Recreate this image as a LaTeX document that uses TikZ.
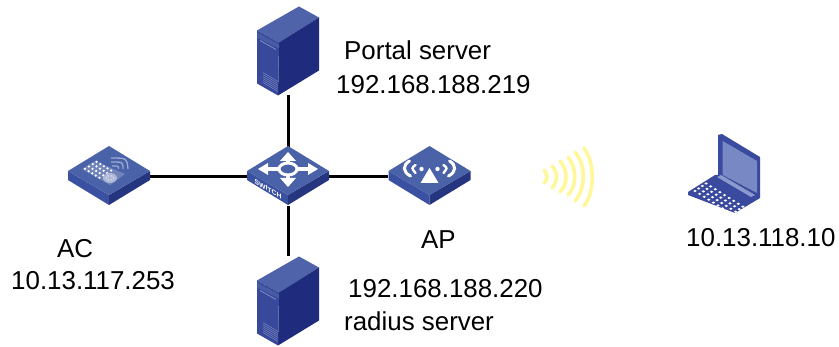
\documentclass[tikz,border=0pt]{standalone}
\usepackage{fontspec}
\setmainfont{Liberation Sans}
\definecolor{slabtop}{HTML}{4A62A8}
\definecolor{slableft}{HTML}{3A50A0}
\definecolor{slabright}{HTML}{25357F}
\definecolor{srvtop}{HTML}{4F63AA}
\definecolor{srvfront}{HTML}{38489A}
\definecolor{srvright}{HTML}{1F2B7C}
\definecolor{iconlight}{HTML}{A9B8DC}
\definecolor{wave}{HTML}{FFF79A}
\definecolor{lapscreen}{HTML}{7788C4}
\definecolor{lapbody}{HTML}{3A4A9E}
\tikzset{
  x=1pt,y=-1pt,
  link/.style={line width=3pt,black},
  label/.style={anchor=base west,inner sep=0pt,font=\fontsize{25.9}{30}\selectfont,text=black},
  device/.style={inner sep=0pt,minimum width=#1},
  waveline/.style={line width=3.6pt,wave,line cap=round},
  slabicon/.pic={
    \fill[slableft] (-41,-6)--(0,18)--(0,28)--(-41,3)--cycle;
    \fill[slabright] (41,-6)--(0,18)--(0,28)--(41,3)--cycle;
    \fill[slabtop] (0,-31)--(41,-6)--(0,18)--(-41,-6)--cycle;
  },
  srvicon/.pic={
    \fill[srvtop] (11,-44)--(31,-33)--(-9,-8)--(-31,-20)--cycle;
    \fill[srvright] (31,-33)--(31,20)--(-10,45)--(-9,-8)--cycle;
    \fill[srvfront] (-31,-20)--(-9,-8)--(-10,45)--(-31,33)--cycle;
    \fill[slabtop!80!srvfront] (-31,-18)--(-9,-6)--(-9,-2)--(-31,-13)--cycle;
    \draw[iconlight!70!srvfront,line width=.7pt] (-28,-10)--(-12,-1);
    \foreach \k in {0,2,...,10}
      \draw[iconlight!60!srvfront,line width=.5pt] (-25,22+\k)--(-10,31+\k);
  },
}
\begin{document}
\begin{tikzpicture}
\useasboundingbox (0,0) rectangle (839,347);
% anchor nodes of the devices
\node[device=62pt,minimum height=89pt] (portal) at (288,50.5) {};
\node[device=62pt,minimum height=89pt] (radius) at (288,300.5) {};
\node[device=82pt,minimum height=58pt] (ac) at (109,177) {};
\node[device=82pt,minimum height=58pt] (sw) at (288,177) {};
\node[device=83pt,minimum height=58pt] (ap) at (429.5,177) {};
\node[device=74pt,minimum height=80pt] (laptop) at (725,174) {};
% connectors
\draw[link] (ac.east) -- (sw.west);
\draw[link] (sw.east) -- (ap.west);
\draw[link] (sw.north) -- (portal.south);
\draw[link] (sw.south) -- (radius.north);
% servers
\pic at (portal.center) {srvicon};
\pic at (radius.center) {srvicon};
% AC
\pic at (ac.center) {slabicon};
\begin{scope}[shift={(ac.center)}]
  \fill[slabtop!78!white] (-27,-8)--(-14,-16)--(16,-3)--(1,8)--cycle;
  \foreach \i in {0,...,4} \foreach \j in {0,...,3}
    \fill[white] (-24+3.6*\i+3.9*\j,-8+2.2*\i-2.4*\j) circle (1.25pt);
  \fill[slabtop!45!white] (1,1) ellipse (7pt and 5pt);
  \foreach \a in {0,60,...,300}
    \fill[white] ({1+3.5*cos(\a)},{1+2.4*sin(\a)}) circle (.6pt);
  \draw[iconlight!85!slabtop,line width=1.3pt] (2,-19) .. controls (18,-19) .. (19,-8);
  \draw[iconlight!85!slabtop,line width=1.3pt] (2,-15) .. controls (14,-15) .. (14,-8);
  \draw[iconlight!85!slabtop,line width=1.3pt] (3,-11) .. controls (9.5,-11) .. (9.5,-8);
\end{scope}
% switch
\pic at (sw.center) {slabicon};
\begin{scope}[shift={(sw.center)}]
  \draw[white,line width=4.4pt] (0,-18)--(0,-12) (0,-4)--(0,3) (-22,-8)--(-10,-8) (10,-8)--(22,-8);
  \fill[white] (0,-25)--(8,-16)--(-8,-16)--cycle;
  \fill[white] (0,10)--(8,1)--(-8,1)--cycle;
  \fill[white] (-30,-8)--(-20,-14)--(-20,-2)--cycle;
  \fill[white] (30,-8)--(20,-14)--(20,-2)--cycle;
  \draw[white,line width=3pt,fill=slabtop] (0,-8) ellipse (9pt and 6pt);
  \node[white,inner sep=0pt,yslant=-0.58,font=\fontsize{6.8}{7}\selectfont\bfseries] (swtext) at (-20,12) {SWITCH};
\end{scope}
% AP
\pic at (ap.center) {slabicon};
\begin{scope}[shift={(ap.center)}]
  \fill[white] (0,-9)--(9,6)--(-9,6)--cycle;
  \foreach \s in {-1,1} {
    \fill[white] (\s*8,-8) circle (2.2pt);
    \draw[white,line width=2.4pt,line cap=round] (\s*14,-12) .. controls (\s*18,-9) .. (\s*14,-4);
    \draw[white,line width=3pt,line cap=round] (\s*20,-16) .. controls (\s*27,-12) and (\s*27,-5) .. (\s*19,-1);
  }
\end{scope}
% wireless waves
\draw[waveline] (544,170) .. controls (548,174) and (548,180) .. (544,183);
\draw[waveline] (552,166) .. controls (558,172) and (558,182) .. (552,188);
\draw[waveline] (560,161) .. controls (568,170) and (568,184) .. (560,192);
\draw[waveline] (568,157) .. controls (577,168) and (577,186) .. (568,195);
\draw[waveline] (575,152) .. controls (586,165) and (586,188) .. (575,201);
\draw[waveline] (584,148) .. controls (595,163) and (595,192) .. (584,206);
% laptop
\begin{scope}[shift={(laptop.center)}]
  \fill[lapbody] (-7,-39)--(-3,-40)--(35,-17)--(35,24)--(10,39)--(-37,21)--(-37,18)--(-10,1)--(-7,1)--cycle;
  \fill[lapscreen] (-2.3,-33)--(32,-13)--(32,19)--(-2.3,1)--cycle;
  \fill[lapscreen!85!white] (-8,3)--(-4,1)--(30,21)--(26,23)--cycle;
  \foreach \i in {0,...,9} \foreach \j in {0,...,3}
    \fill[white] (-30+4.6*\i+3.7*\j,17+2.9*\i-2.5*\j) ellipse (1.7pt and 1.2pt);
\end{scope}
% labels
\node[label] (t1) at (344,60) {Portal server};
\node[label] (t2) at (336,94) {192.168.188.219};
\node[label] (t3) at (57,258) {AC};
\node[label] (t4) at (11,290) {10.13.117.253};
\node[label] (t5) at (421,249) {AP};
\node[label] (t6) at (348,298) {192.168.188.220};
\node[label] (t7) at (344,331) {radius server};
\node[label] (t8) at (686,247) {10.13.118.10};
\end{tikzpicture}
\end{document}
